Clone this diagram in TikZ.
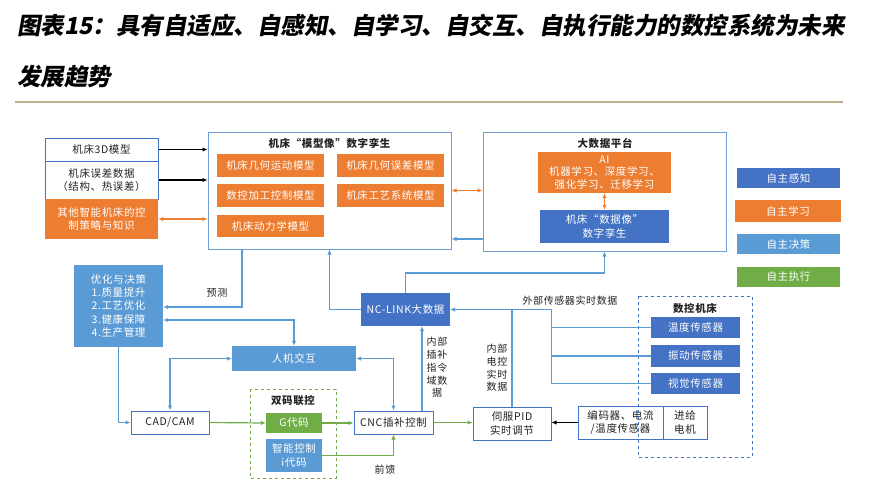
\documentclass[tikz,border=0pt]{standalone}
\usepackage{fontspec}
\setmainfont[LetterSpace=6]{Noto Sans CJK SC}
\newfontfamily\titlefont[FakeSlant=0.18]{Noto Sans CJK SC}
\usetikzlibrary{arrows.meta,calc}
\definecolor{dblue}{HTML}{4472C4}
\definecolor{orng}{HTML}{ED7D31}
\definecolor{lblue}{HTML}{5B9BD5}
\definecolor{grn}{HTML}{70AD47}
\definecolor{lineb}{HTML}{5B9BD5}
\definecolor{frameb}{HTML}{6F9FD8}
\definecolor{rulec}{HTML}{BDAE8E}
\definecolor{txt}{HTML}{222222}
\begin{document}
\begin{tikzpicture}[x=1pt,y=-1pt,
  base/.style={rectangle, inner sep=0pt, align=center, text=txt, font=\fontsize{10.5}{13.3}\selectfont},
  wh/.style 2 args={minimum width=#1pt, minimum height=#2pt},
  wbox/.style={base, draw=dblue, line width=1pt, fill=white},
  obox/.style={base, fill=orng, text=white},
  dbox/.style={base, fill=dblue, text=white},
  lbox/.style={base, fill=lblue, text=white},
  gbox/.style={base, fill=grn, text=white},
  frm/.style={base, draw=frameb, line width=1pt},
  lbl/.style={inner sep=0pt, align=center, text=txt, font=\fontsize{10}{12.7}\selectfont},
  conn/.style={draw=lineb, line width=1.2pt},
  gconn/.style={draw=grn, line width=1.2pt},
  oconn/.style={draw=orng, line width=1.2pt},
  kconn/.style={draw=black, line width=1.2pt},
  arr/.style={-{Latex[length=5pt,width=4.5pt]}},
  darr/.style={{Latex[length=5pt,width=4.5pt]}-{Latex[length=5pt,width=4.5pt]}},
]
\useasboundingbox (0,0) rectangle (890,485);
\fill[white] (0,0) rectangle (890,485);

% title
\node[anchor=west, inner sep=0pt, font=\titlefont\bfseries\fontsize{23.5}{27}\selectfont] (t1) at (17,26) {图表15：具有自适应、自感知、自学习、自交互、自执行能力的数控系统为未来};
\node[anchor=west, inner sep=0pt, font=\titlefont\bfseries\fontsize{23.5}{27}\selectfont] (t2) at (17,77) {发展趋势};
\coordinate (r1) at (15,102);
\coordinate (r2) at (843,102);
\draw[rulec, line width=1.5pt] (r1) -- (r2);

% helper coordinates
\coordinate (y239) at (0,239);
\coordinate (y307) at (0,307);
\coordinate (y320) at (0,320);
\coordinate (y273) at (0,273);
\coordinate (x242) at (242,0);
\coordinate (x422) at (422,0);

% left column
\node[wbox, wh={113}{23}] (m3d) at (101.5,149.5) {机床3D模型};
\node[wbox, wh={113}{38}] (merr) at (101.5,180) {机床误差数据\\（结构、热误差）};
\node[obox, wh={113}{40}] (moth) at (101.5,219) {其他智能机床的控\\制策略与知识};

% twin box
\node[frm, wh={243}{117}] (twin) at (329.5,190.5) {};
\node[base, font=\bfseries\fontsize{10.5}{13}\selectfont] (twint) at (329.5,143) {机床“模型像”数字孪生};
\node[obox, wh={107}{23}] (tg1) at (270.5,165.5) {机床几何运动模型};
\node[obox, wh={107}{23}] (tg2) at (390.5,165.5) {机床几何误差模型};
\node[obox, wh={107}{23}] (tg3) at (270.5,195.5) {数控加工控制模型};
\node[obox, wh={107}{23}] (tg4) at (390.5,195.5) {机床工艺系统模型};
\node[obox, wh={107}{22}] (tg5) at (270.5,226) {机床动力学模型};

% big data
\node[frm, wh={243}{119}] (bigd) at (604.5,191.5) {};
\node[base, font=\bfseries\fontsize{10.5}{13}\selectfont] (bigdt) at (605,143) {大数据平台};
\node[obox, wh={133}{41}, font=\fontsize{10.5}{12.6}\selectfont] (ai) at (604.5,172.5) {AI\\机器学习、深度学习、\\强化学习、迁移学习};
\node[dbox, wh={129}{33}] (dtw) at (604.5,226.5) {机床“数据像”\\数字孪生};

% legend
\node[dbox, wh={103}{20}] (lg1) at (788.5,178) {自主感知};
\node[obox, wh={106}{22}] (lg2) at (788,211) {自主学习};
\node[lbox, wh={103}{20}] (lg3) at (788.5,244) {自主决策};
\node[gbox, wh={103}{20}] (lg4) at (788.5,277) {自主执行};

% middle / bottom
\node[lbox, wh={89}{82}] (opt) at (118.5,306) {优化与决策\\1.质量提升\\2.工艺优化\\3.健康保障\\4.生产管理};
\node[lbox, wh={124}{25}] (hmi) at (294,358.5) {人机交互};
\node[wbox, wh={78}{23}] (cad) at (170,422.5) {CAD/CAM};
\draw[grn, line width=1pt, dashed] (250,389) rectangle (336,478);
\node[base, font=\bfseries\fontsize{10.5}{13}\selectfont] (dualt) at (293,401) {双码联控};
\node[gbox, wh={56}{20}] (gc) at (294,423) {G代码};
\node[lbox, wh={56}{33}] (ic) at (294,455.5) {智能控制\\i代码};
\node[wbox, wh={79}{23}] (cnc) at (393.5,422.5) {CNC插补控制};
\node[wbox, wh={78}{33}] (pid) at (512,423.5) {伺服PID\\实时调节};
\node[wbox, wh={85}{33}] (enc) at (620.5,422.5) {编码器、电流\\/温度传感器};
\node[wbox, wh={44}{33}] (mot) at (685,422.5) {进给\\电机};
\draw[dblue, line width=1pt, dashed] (638,296) rectangle (752,457);
\node[base, font=\bfseries\fontsize{10.5}{13}\selectfont] (mact) at (695,308) {数控机床};
\node[dbox, wh={89}{21}] (s1) at (695.5,327.5) {温度传感器};
\node[dbox, wh={89}{22}] (s2) at (695.5,356) {振动传感器};
\node[dbox, wh={89}{21}] (s3) at (695.5,383.5) {视觉传感器};
\node[dbox, wh={89}{33}] (ncl) at (405.5,309.5) {NC-LINK大数据};

% labels
\node[lbl] (lyc) at (217,293) {预测};
\node[lbl] (lext) at (570,301) {外部传感器实时数据};
\node[lbl] (lint1) at (437,367.5) {内部\\插补\\指令\\域数\\据};
\node[lbl] (lint2) at (497,368) {内部\\电控\\实时\\数据};
\node[lbl] (lff) at (385,470) {前馈};

% connectors top
\draw[kconn, arr] (m3d.east) -- (m3d.east -| twin.west);
\draw[kconn, arr] (merr.east) -- (merr.east -| twin.west);
\draw[oconn, darr] (moth.east) -- (moth.east -| twin.west);
\draw[oconn, darr] (twin.east) -- (twin.east -| bigd.west);
\draw[conn, arr] (bigd.west |- y239) -- (twin.east |- y239);
\draw[oconn, darr] (ai.south) -- (dtw.north);

% prediction
\draw[conn, arr] (twin.south -| x242) -- (x242 |- y307) -- (opt.east |- y307);
\draw[conn, darr] (opt.east |- y320) -- (hmi.north |- y320) -- (hmi.north);
\draw[conn, darr] (cad.north) -- (cad.north |- hmi.west) -- (hmi.west);
\draw[conn, darr] (cnc.north) -- (cnc.north |- hmi.east) -- (hmi.east);
\draw[conn, arr] (opt.south) -- (opt.south |- cad.west) -- (cad.west);

% green
\draw[gconn, arr] (cad.east) -- (gc.west);
\draw[gconn, arr] (gc.east) -- (cnc.west |- gc.east);
\draw[gconn, arr] (ic.east) -- (ic.east -| cnc.south) -- (cnc.south);
\draw[gconn, arr] (cnc.east) -- (cnc.east -| pid.west);
\draw[kconn, arr] (enc.west) -- (enc.west -| pid.east);

% NC-LINK
\draw[conn, arr] (cnc.north -| x422) -- (ncl.south -| x422);
\draw[conn, arr] (ncl.north) -- (ncl.north |- y273) -- (bigd.south |- y273) -- (bigd.south);
\draw[conn, arr] (ncl.west) -- (ncl.west -| twin.south) -- (twin.south);

% sensors
\draw[conn] (s1.west) -- (s1.west -| pid.east);
\draw[conn] (s2.west) -- (s2.west -| pid.east);
\draw[conn] (s3.west) -- (s3.west -| pid.east) -- (pid.east |- ncl.east);
\draw[conn, arr] (pid.east |- ncl.east) -- (ncl.east);
\draw[conn] (pid.north) -- (pid.north |- ncl.east);
\end{tikzpicture}
\end{document}
